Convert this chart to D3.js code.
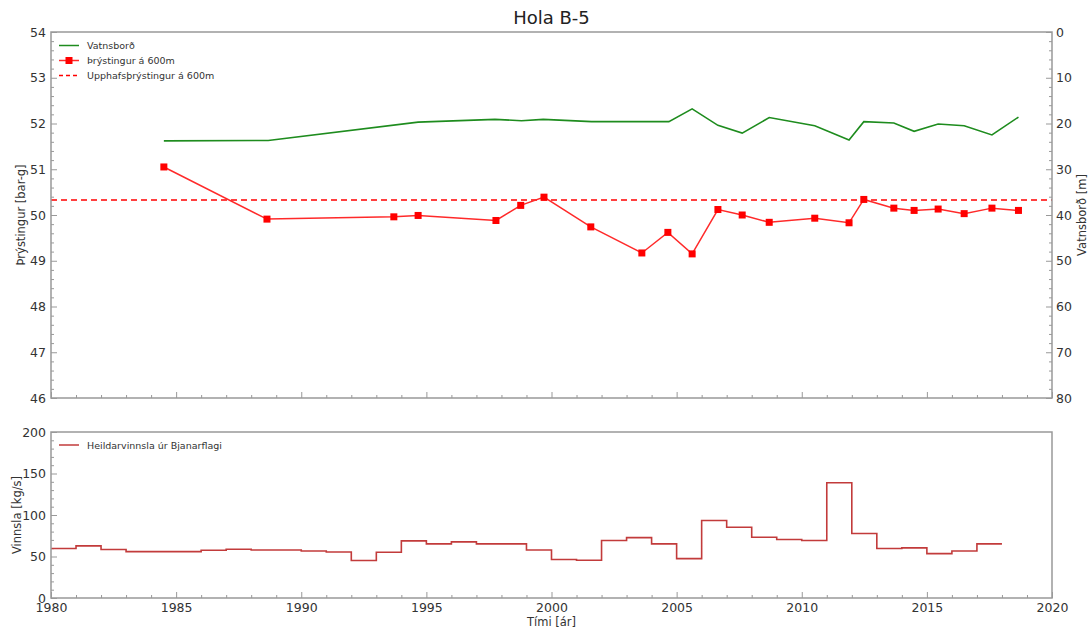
<!DOCTYPE html>
<html>
<head>
<meta charset="utf-8">
<script src="https://cdn.jsdelivr.net/npm/d3@7"></script>
<style>
  html, body { margin: 0; padding: 0; background: #fff; }
  svg { display: block; font-family: "DejaVu Sans", sans-serif; }
</style>
</head>
<body>
<svg id="chart" width="1089" height="632"></svg>
<script>
// Pressure at 600 m (bar-g), measured dates as decimal years
const pressureYears = [1984.51, 1988.63, 1993.70, 1994.67, 1997.78, 1998.77, 1999.70, 2001.57, 2003.61, 2004.65,
  2005.62, 2006.65, 2007.62, 2008.70, 2010.52, 2011.89, 2012.48, 2013.68, 2014.49, 2015.45, 2016.49, 2017.60, 2018.66];
const pressureValues = [51.05, 49.91, 49.96, 49.99, 49.88, 50.21, 50.39, 49.74, 49.17, 49.62,
  49.15, 50.12, 50.00, 49.84, 49.93, 49.83, 50.34, 50.15, 50.10, 50.13, 50.03, 50.15, 50.10];

// Initial pressure at 600 m
const initialPressure = 50.33;

// Water level (m below surface)
const levelYears = [1984.51, 1988.68, 1994.67, 1997.74, 1998.80, 1999.67, 2001.60, 2004.69, 2005.62, 2006.65,
  2007.62, 2008.70, 2010.52, 2011.89, 2012.48, 2013.68, 2014.49, 2015.45, 2016.49, 2017.60, 2018.66];
const levelValues = [23.8, 23.7, 19.7, 19.1, 19.4, 19.1, 19.6, 19.6, 16.8, 20.4,
  22.1, 18.7, 20.5, 23.6, 19.6, 19.9, 21.7, 20.1, 20.5, 22.5, 18.6];

// Total production from Bjarnarflag, yearly (kg/s)
const productionYears = d3.range(1980, 2018);
const productionValues = [59.6, 62.8, 58.4, 55.9, 55.9, 55.9, 57.5, 58.8, 57.9, 57.9,
  56.7, 55.5, 45.1, 55.1, 68.8, 65.2, 67.6, 65.2, 65.2, 57.9,
  46.3, 45.5, 69.2, 72.8, 65.2, 47.5, 93.4, 85.3, 73.2, 70.4,
  69.2, 138.8, 77.7, 59.6, 60.4, 53.5, 56.7, 65.2];
const productionEnd = 2018;

const xTicks = [1980, 1985, 1990, 1995, 2000, 2005, 2010, 2015, 2020];
const pressureTicks = [46, 47, 48, 49, 50, 51, 52, 53, 54];
const levelTicks = [0, 10, 20, 30, 40, 50, 60, 70, 80];
const productionTicks = [0, 50, 100, 150, 200];

const svg = d3.select("#chart");
const frameColor = "#999";
const textColor = "#333";

const L = 51, R = 1052;
const top1 = 32, bot1 = 398;
const top2 = 432, bot2 = 598;

const x = d3.scaleLinear().domain([1980, 2020]).range([L, R]);
const yP = d3.scaleLinear().domain([46, 54]).range([bot1, top1]);
const yL = d3.scaleLinear().domain([0, 80]).range([top1, bot1]);
const yV = d3.scaleLinear().domain([0, 200]).range([bot2, top2]);

function styleAxis(g, fontSize) {
  g.select(".domain").remove();
  g.selectAll(".tick line").attr("stroke", frameColor).attr("stroke-width", 1);
  g.selectAll(".tick text").attr("fill", textColor).attr("font-size", fontSize)
    .attr("font-family", "DejaVu Sans, sans-serif");
}

// Draws major + minor inward ticks
function ticks(axisFn, scale, majors, minorStep, transform, showLabels, padding) {
  const [d0, d1] = d3.extent(scale.domain());
  const minors = d3.range(d0, d1 + minorStep / 2, minorStep)
    .map(v => +v.toFixed(6))
    .filter(v => !majors.some(m => Math.abs(m - v) < 1e-6));
  const gMinor = svg.append("g").attr("transform", transform)
    .call(axisFn(scale).tickValues(minors).tickSize(-3).tickFormat(""));
  styleAxis(gMinor, 12);
  const gMajor = svg.append("g").attr("transform", transform)
    .call(axisFn(scale).tickValues(majors).tickSize(-6).tickPadding(padding == null ? 5 : padding)
      .tickFormat(showLabels ? d3.format("d") : ""));
  styleAxis(gMajor, 12.5);
  return gMajor;
}

// ---------- top panel ----------
svg.append("text").attr("x", (L + R) / 2).attr("y", 24).attr("text-anchor", "middle")
  .attr("font-size", 18).attr("fill", "#222").text("Hola B-5");

ticks(d3.axisBottom, x, xTicks, 1, `translate(0,${bot1})`, false);
ticks(d3.axisLeft, yP, pressureTicks, 0.2, `translate(${L},0)`, true);
ticks(d3.axisRight, yL, levelTicks, 2, `translate(${R},0)`, true, 4);

// initial pressure reference line
svg.append("line")
  .attr("x1", L).attr("x2", R)
  .attr("y1", yP(initialPressure)).attr("y2", yP(initialPressure))
  .attr("stroke", "#ff0000").attr("stroke-width", 1.5).attr("stroke-dasharray", "6,4");

// water level
svg.append("path")
  .datum(levelYears.map((t, i) => [t, levelValues[i]]))
  .attr("fill", "none").attr("stroke", "#1e8c1e").attr("stroke-width", 1.6)
  .attr("d", d3.line().x(d => x(d[0])).y(d => yL(d[1])));

// pressure
const pData = pressureYears.map((t, i) => [t, pressureValues[i]]);
svg.append("path").datum(pData)
  .attr("fill", "none").attr("stroke", "#ff2a2a").attr("stroke-width", 1.5)
  .attr("d", d3.line().x(d => x(d[0])).y(d => yP(d[1])));
svg.append("g").selectAll("rect").data(pData).join("rect")
  .attr("x", d => x(d[0]) - 3.5).attr("y", d => yP(d[1]) - 3.5)
  .attr("width", 7).attr("height", 7).attr("fill", "#ff0000");

svg.append("rect").attr("x", L).attr("y", top1).attr("width", R - L).attr("height", bot1 - top1)
  .attr("fill", "none").attr("stroke", frameColor).attr("stroke-width", 1.5);

svg.append("text").attr("transform", `translate(25,${(top1 + bot1) / 2}) rotate(-90)`)
  .attr("text-anchor", "middle").attr("font-size", 11.5).attr("fill", textColor)
  .text("Þrýstingur [bar-g]");
svg.append("text").attr("transform", `translate(1086,${(top1 + bot1) / 2}) rotate(-90)`)
  .attr("text-anchor", "middle").attr("font-size", 11.5).attr("fill", textColor)
  .text("Vatnsborð [m]");

// legend (top)
const leg1 = svg.append("g").attr("font-size", 9.5).attr("fill", textColor);
const legItems = [
  { label: "Vatnsborð", color: "#1e8c1e", dash: null, marker: false },
  { label: "Þrýstingur á 600m", color: "#ff2a2a", dash: null, marker: true },
  { label: "Upphafsþrýstingur á 600m", color: "#ff0000", dash: "4,3", marker: false }
];
legItems.forEach((it, i) => {
  const yy = 45.5 + i * 15;
  leg1.append("line").attr("x1", 59).attr("x2", 79).attr("y1", yy).attr("y2", yy)
    .attr("stroke", it.color).attr("stroke-width", 1.5).attr("stroke-dasharray", it.dash);
  if (it.marker) {
    leg1.append("rect").attr("x", 65.5).attr("y", yy - 3.5).attr("width", 7).attr("height", 7).attr("fill", "#ff0000");
  }
  leg1.append("text").attr("x", 87).attr("y", yy + 3.5).text(it.label);
});

// ---------- bottom panel ----------
ticks(d3.axisBottom, x, xTicks, 1, `translate(0,${bot2})`, true);
ticks(d3.axisLeft, yV, productionTicks, 10, `translate(${L},0)`, true);

const stepData = productionYears.map((t, i) => [t, productionValues[i]]);
stepData.push([productionEnd, productionValues[productionValues.length - 1]]);
svg.append("path").datum(stepData)
  .attr("fill", "none").attr("stroke", "#c23b3b").attr("stroke-width", 1.6)
  .attr("d", d3.line().curve(d3.curveStepAfter).x(d => x(d[0])).y(d => yV(d[1])));

svg.append("rect").attr("x", L).attr("y", top2).attr("width", R - L).attr("height", bot2 - top2)
  .attr("fill", "none").attr("stroke", frameColor).attr("stroke-width", 1.5);

svg.append("text").attr("transform", `translate(21,${(top2 + bot2) / 2}) rotate(-90)`)
  .attr("text-anchor", "middle").attr("font-size", 11.5).attr("fill", textColor)
  .text("Vinnsla [kg/s]");
svg.append("text").attr("x", (L + R) / 2).attr("y", 626).attr("text-anchor", "middle")
  .attr("font-size", 11.5).attr("fill", textColor).text("Tími [ár]");

const leg2 = svg.append("g").attr("font-size", 9.5).attr("fill", textColor);
leg2.append("line").attr("x1", 59).attr("x2", 79).attr("y1", 445).attr("y2", 445)
  .attr("stroke", "#c23b3b").attr("stroke-width", 1.5);
leg2.append("text").attr("x", 87).attr("y", 448.5).text("Heildarvinnsla úr Bjanarflagi");
</script>
</body>
</html>
